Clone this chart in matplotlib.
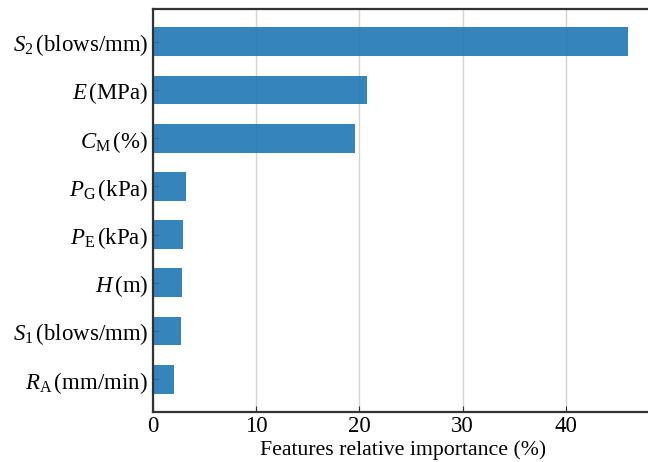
import matplotlib
matplotlib.use("Agg")
import matplotlib.pyplot as plt

plt.rcParams['font.family'] = ['Liberation Serif', 'DejaVu Serif']
plt.rcParams['mathtext.fontset'] = 'custom'
plt.rcParams['mathtext.rm'] = 'Liberation Serif'
plt.rcParams['mathtext.it'] = 'Liberation Serif:italic'

# feature names (top to bottom) and their relative importance in %
features = [r'$S_{\mathrm{2}}\,$(blows/mm)', r'$E\,$(MPa)', r'$C_{\mathrm{M}}\,$(%)',
            r'$P_{\mathrm{G}}\,$(kPa)', r'$P_{\mathrm{E}}\,$(kPa)', r'$H\,$(m)',
            r'$S_{\mathrm{1}}\,$(blows/mm)', r'$R_{\mathrm{A}}\,$(mm/min)']
importance = [46.0, 20.7, 19.6, 3.2, 2.9, 2.8, 2.7, 2.0]

fig = plt.figure(figsize=(6.48, 4.62), dpi=100)
ax = fig.add_axes([153 / 648, 50 / 462, 48.5 * 10.32 / 648, 403 / 462])

pos = list(range(len(features)))[::-1]
ax.barh(pos, importance, height=0.6, color='#1f77b4', alpha=0.9, zorder=2)

ax.set_xlim(0, 48.5)
ax.set_yticks(pos)
ax.set_yticklabels(features)
ax.set_xticks([0, 10, 20, 30, 40])
ax.grid(axis='x', color='#d3d3d3', linewidth=1.0, zorder=0)
ax.set_axisbelow(True)
ax.tick_params(direction='in', labelsize=16.5, length=4, color='#333333')
ax.tick_params(axis='y', pad=3.5)
ax.tick_params(axis='x', pad=3)
ax.set_xlabel('Features relative importance (%)', fontsize=15.7, labelpad=2)

for side in ['left', 'bottom', 'top', 'right']:
    ax.spines[side].set_color('#333333')
    ax.spines[side].set_linewidth(1.6)

fig.savefig('out.png', dpi=100)
